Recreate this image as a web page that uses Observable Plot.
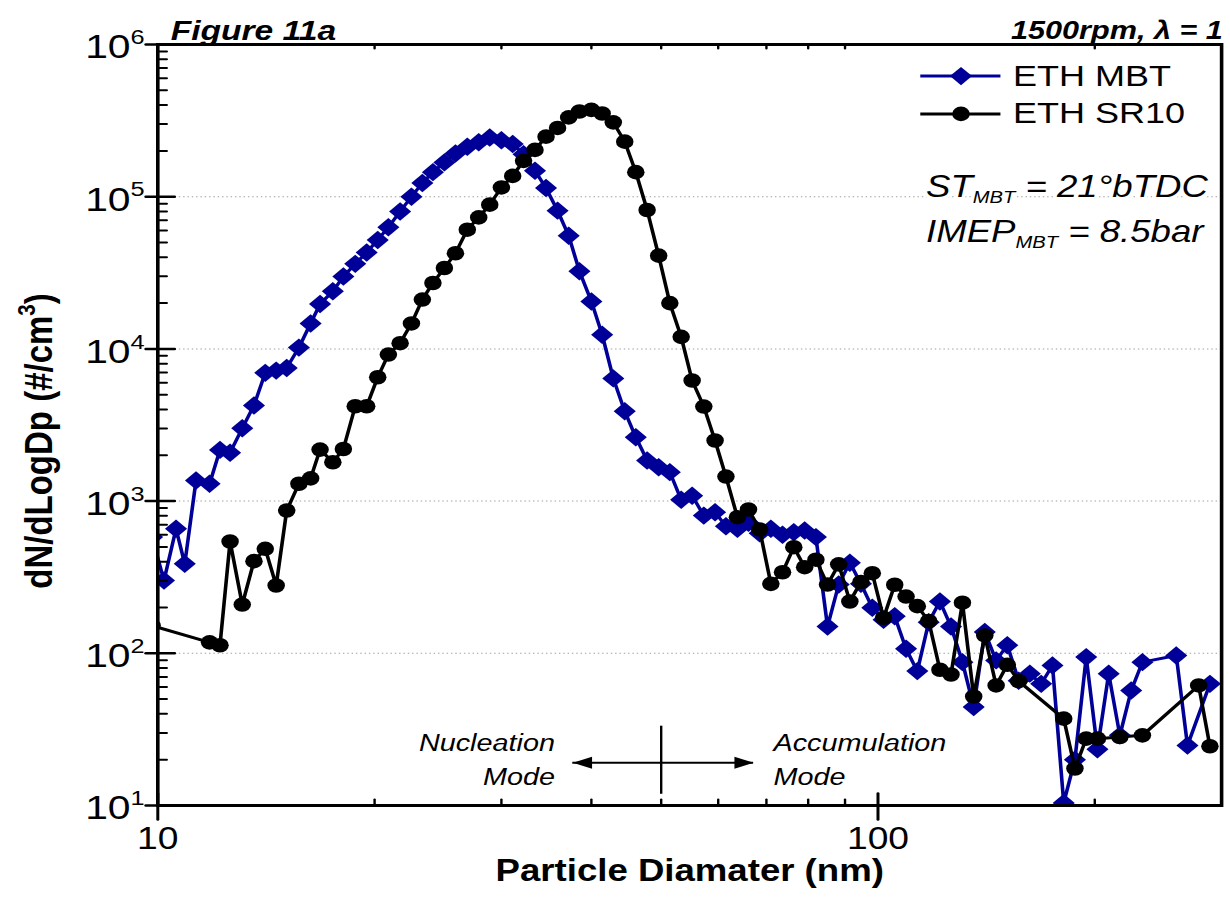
<!DOCTYPE html>
<html>
<head>
<meta charset="utf-8">
<script src="https://cdn.jsdelivr.net/npm/d3@7"></script>
<script src="https://cdn.jsdelivr.net/npm/@observablehq/plot@0.6"></script>
<style>
  html, body { margin: 0; padding: 0; background: #fff; overflow: hidden; }
  #chart { width: 1230px; height: 917px; }
  #chart svg { display: block; transform-origin: 0 0; }
</style>
</head>
<body>
<div id="chart"></div>
<script>
// ---------------- data ----------------
const seriesNames = ["ETH MBT", "ETH SR10"];

const mbtDiameter = [9.82,10.2,10.6,10.9,11.3,11.8,12.2,12.6,13.1,13.6,14.1,14.6,15.1,15.7,16.3,16.8,17.5,18.1,18.8,19.5,
  20.2,20.9,21.7,22.5,23.3,24.1,25.0,25.9,26.9,27.9,28.9,30.0,31.1,32.2,33.4,34.6,35.9,37.2,38.5,40.0,
  41.4,42.9,44.5,46.1,47.8,49.6,51.4,53.3,55.2,57.3,59.4,61.5,63.8,66.1,68.5,71.0,73.7,76.4,79.1,82.0,
  85.1,88.2,91.4,94.7,98.2,101.8,105.5,109.4,113.4,117.6,121.9,126.3,131.0,135.8,140.7,145.9,151.2,156.8,
  162.5,168.5,174.7,181.1,187.7,194.6,201.7,209.1,216.7,224.7,232.9,259.5,269.0,289.0];
const mbtConc = [580,301,658,387,1366,1300,2170,2080,3010,4250,6960,7200,7500,10200,14700,19700,23900,29900,36200,43000,
  52000,63000,80000,100000,123000,145000,168000,192000,213000,228000,245000,235000,222000,190000,148000,114000,81000,55400,32400,20500,
  12400,6400,3890,2630,1850,1670,1550,1020,1085,803,845,684,658,720,615,658,601,625,641,580,
  150,283,394,286,199,166,175,107,76.4,160,219,150,87.5,44.4,138,89.8,113,66,
  73.5,63,83.3,10.4,20,94.4,23.4,73.5,28.9,57,87.5,96.8,24.8,63];

const sr10Diameter = [9.82,11.8,12.2,12.6,13.1,13.6,14.1,14.6,15.1,15.7,16.3,16.8,17.5,18.1,18.8,19.5,
  20.2,20.9,21.7,22.5,23.3,24.1,25.0,25.9,26.9,27.9,28.9,30.0,31.1,32.2,33.4,34.6,35.9,37.2,38.5,40.0,
  41.4,42.9,44.5,46.1,47.8,49.6,51.4,53.3,55.2,57.3,59.4,61.5,63.8,66.1,68.5,71.0,73.7,76.4,79.1,82.0,
  85.1,88.2,91.4,94.7,98.2,101.8,105.5,109.4,113.4,117.6,121.9,126.3,131.0,135.8,140.7,145.9,151.2,156.8,
  181.1,187.7,194.6,201.7,216.7,232.9,278.8,289.0];
const sr10Conc = [152,118,113,543,209,403,486,279,867,1300,1410,2180,1800,2200,4200,4200,
  6510,9180,10900,14700,21100,27100,34000,42500,60700,73100,88700,115000,137000,172000,203000,248000,283000,332000,363000,372000,
  352000,308000,230000,145000,81800,41000,20000,12000,6200,4180,2500,1450,784,881,651,286,341,498,368,412,
  283,384,219,294,336,171,282,236,204,163,78,72.6,215,52,131,61.5,84,65.7,
  37.2,17.5,27.5,27.5,28.2,28.9,61.5,24.5];

const yTickValues = [10, 100, 1000, 10000, 100000, 1000000];
const yTickLabels = ["10^{1}", "10^{2}", "10^{3}", "10^{4}", "10^{5}", "10^{6}"];
const xTickValues = [10, 100];
const xTickLabels = ["10", "100"];
const xMinorTicks = [20, 30, 40, 50, 60, 70, 80, 90, 200];
const gridValues = [100, 1000, 10000, 100000];

const titleLeft = "Figure 11a";
const titleRight = "1500rpm, λ = 1";
const xTitle = "Particle Diamater (nm)";
const yTitle = "dN/dLogDp (#/cm^{3})";
const conditionLabels = ["ST_{MBT} = 21°bTDC", "IMEP_{MBT} = 8.5bar"];
const nucleationLabels = ["Nucleation", "Mode"];
const accumulationLabels = ["Accumulation", "Mode"];

// annotation placement (data units)
const legendPos = { x1: 114.7, x2: 148.2, xMark: 130.4, xText: 154, y: [6.2e5, 3.5e5] };
const conditionPos = { x: 116.6, y: [1.146e5, 5.81e4] };
const modePos = { boundary: 50, b1: 11.85, b2: 33.2, arrowY: 19.07, arrowLeft: 37.7, arrowRight: 67.2,
  textLeft: 35.6, textRight: 71.6, lines: [25.6, 15.3] };

// ---------------- drawing ----------------
const S = 1.2;                       // horizontal stretch of the reference picture
const W = Math.round(1230 / S);
const H = 917;
const BLUE = "#000099";
const FONT = "'Liberation Sans', Arial, Helvetica, sans-serif";

const mbt = mbtDiameter.map((d, i) => ({ d, v: mbtConc[i] }));
const sr10 = sr10Diameter.map((d, i) => ({ d, v: sr10Conc[i] }));

const yMinor = [];
for (let k = 1; k < 6; k++) for (let m = 2; m < 10; m++) yMinor.push(m * 10 ** k);

const seg = (x0, y0, x1, y1) => ({ draw(ctx) { ctx.moveTo(x0, y0); ctx.lineTo(x1, y1); } });
const headRight = { draw(ctx) { ctx.moveTo(0, 0); ctx.lineTo(-16, -6); ctx.lineTo(-16, 6); ctx.closePath(); } };
const headLeft = { draw(ctx) { ctx.moveTo(0, 0); ctx.lineTo(16, -6); ctx.lineTo(16, 6); ctx.closePath(); } };

const legendRows = seriesNames.map((name, i) => ({ name, y: legendPos.y[i], color: i === 0 ? BLUE : "black" }));

const plot = Plot.plot({
  width: W, height: H,
  marginLeft: 131, marginRight: 7.5, marginTop: 44, marginBottom: 112,
  x: { type: "log", domain: [10, 300], axis: null },
  y: { type: "log", domain: [10, 1e6], axis: null },
  style: { fontFamily: FONT, color: "black", background: "white", overflow: "visible" },
  marks: [
    Plot.ruleY(gridValues, { stroke: "#a0a0a0", strokeWidth: 1, strokeDasharray: "1.2,2.4" }),

    Plot.line(mbt, { x: "d", y: "v", stroke: BLUE, strokeWidth: 3, clip: true }),
    Plot.dot(mbt, { x: "d", y: "v", symbol: "diamond2", r: 8.3, fill: BLUE, clip: true }),
    Plot.line(sr10, { x: "d", y: "v", stroke: "black", strokeWidth: 3, clip: true }),
    Plot.dot(sr10, { x: "d", y: "v", symbol: "circle", r: 7.3, fill: "black", clip: true }),

    // axis ticks
    Plot.vector(yMinor, { y: d => d, frameAnchor: "left", anchor: "start", shape: seg(0, 0, 7.5, 0), stroke: "black", strokeWidth: 2 }),
    Plot.vector(yTickValues, { y: d => d, frameAnchor: "left", anchor: "start", shape: seg(-10, 0, 14, 0), stroke: "black", strokeWidth: 2.5 }),
    Plot.vector(xMinorTicks, { x: d => d, frameAnchor: "bottom", anchor: "start", shape: seg(0, 0, 0, -6), stroke: "black", strokeWidth: 2 }),
    Plot.vector(xTickValues, { x: d => d, frameAnchor: "bottom", anchor: "start", shape: seg(0, 14, 0, -12), stroke: "black", strokeWidth: 2.5 }),
    Plot.vector(xMinorTicks, { x: d => d, frameAnchor: "top", anchor: "start", shape: seg(0, 0, 0, 4), stroke: "black", strokeWidth: 2 }),
    Plot.frame({ stroke: "black", strokeWidth: 3 }),

    // tick labels
    Plot.text(yTickValues, { y: d => d, frameAnchor: "left", dx: -11, dy: 3, textAnchor: "end", text: (d, i) => yTickLabels[i], fontSize: 34 }),
    Plot.text(xTickValues, { x: d => d, frameAnchor: "bottom", dy: 43, textAnchor: "middle", text: (d, i) => xTickLabels[i], fontSize: 31 }),

    // axis titles
    Plot.text([xTitle], { frameAnchor: "bottom", dy: 75, textAnchor: "middle", fontWeight: "bold", fontSize: 30.5 }),
    Plot.text([yTitle], { frameAnchor: "left", dx: -99, dy: 16, textAnchor: "middle", rotate: -90, fontWeight: "bold", fontSize: 33 }),

    // titles
    Plot.text([titleLeft], { frameAnchor: "top-left", dx: 10.7, dy: -24, textAnchor: "start", fontWeight: "bold", fontStyle: "italic", fontSize: 28 }),
    Plot.text([titleRight], { frameAnchor: "top-right", dx: 1, dy: -24, textAnchor: "end", fontWeight: "bold", fontStyle: "italic", fontSize: 25.5 }),

    // legend
    Plot.ruleY(legendRows, { y: "y", x1: legendPos.x1, x2: legendPos.x2, stroke: "color", strokeWidth: 3 }),
    Plot.dot(legendRows.slice(0, 1), { x: legendPos.xMark, y: "y", symbol: "diamond2", r: 8.3, fill: BLUE }),
    Plot.dot(legendRows.slice(1), { x: legendPos.xMark, y: "y", symbol: "circle", r: 7.3, fill: "black" }),
    Plot.text(legendRows, { x: legendPos.xText, y: "y", text: "name", textAnchor: "start", fontSize: 30 }),

    // conditions
    Plot.text(conditionLabels, { x: conditionPos.x, y: (d, i) => conditionPos.y[i], text: d => d, textAnchor: "start",
      fontStyle: "italic", fontSize: 30.5, stroke: "white", strokeWidth: 6, fill: "black" }),

    // nucleation / accumulation annotation
    Plot.ruleX([modePos.boundary], { y1: modePos.b1, y2: modePos.b2, stroke: "black", strokeWidth: 2 }),
    Plot.ruleY([modePos.arrowY], { x1: modePos.arrowLeft, x2: modePos.arrowRight, stroke: "black", strokeWidth: 2 }),
    Plot.dot([modePos.arrowRight], { x: d => d, y: modePos.arrowY, symbol: headRight, fill: "black", stroke: "none" }),
    Plot.dot([modePos.arrowLeft], { x: d => d, y: modePos.arrowY, symbol: headLeft, fill: "black", stroke: "none" }),
    Plot.text(nucleationLabels, { x: modePos.textLeft, y: (d, i) => modePos.lines[i], text: d => d, textAnchor: "end", fontStyle: "italic", fontSize: 24 }),
    Plot.text(accumulationLabels, { x: modePos.textRight, y: (d, i) => modePos.lines[i], text: d => d, textAnchor: "start", fontStyle: "italic", fontSize: 24 })
  ]
});

plot.style.transform = `scaleX(${S})`;
document.getElementById("chart").appendChild(plot);

// rich text: ^{...} superscript, _{...} subscript
function richify(root) {
  d3.select(root).selectAll("text").each(function () {
    const el = this;
    if (el.querySelector("tspan")) return;
    const t = el.textContent;
    if (!/[\^_]\{/.test(t)) return;
    const fs = parseFloat(getComputedStyle(el).fontSize) || 20;
    const parts = [];
    const re = /([\^_])\{([^}]*)\}/g;
    let last = 0, m;
    while ((m = re.exec(t))) {
      if (m.index > last) parts.push({ s: t.slice(last, m.index), k: "" });
      parts.push({ s: m[2], k: m[1] });
      last = re.lastIndex;
    }
    if (last < t.length) parts.push({ s: t.slice(last), k: "" });
    el.textContent = "";
    let offset = 0;
    for (const p of parts) {
      const ts = document.createElementNS("http://www.w3.org/2000/svg", "tspan");
      let target = 0, size = null;
      if (p.k === "^") { target = -0.42 * fs; size = 0.62; }
      else if (p.k === "_") { target = 0.18 * fs; size = 0.55; }
      const d = target - offset;
      if (d !== 0) ts.setAttribute("dy", d.toFixed(2));
      offset = target;
      if (size) ts.setAttribute("font-size", (size * fs).toFixed(1) + "px");
      ts.textContent = p.s;
      el.appendChild(ts);
    }
  });
}
richify(plot);
</script>
</body>
</html>
